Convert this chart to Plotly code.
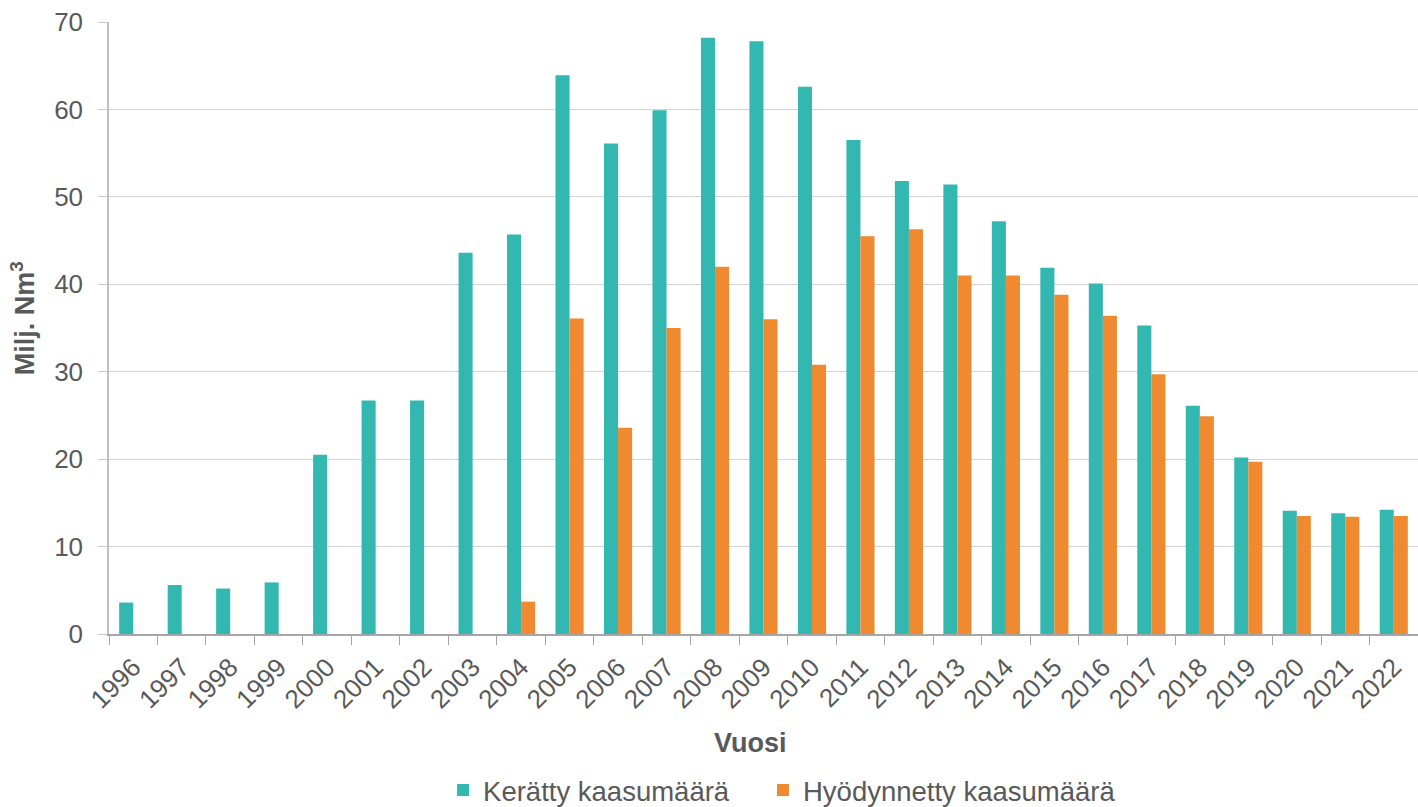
import plotly.graph_objects as go

# Vuosittain kerätty ja hyödynnetty kaatopaikkakaasu (milj. Nm3)
vuodet = [str(v) for v in range(1996, 2023)]
keratty = [3.6, 5.6, 5.2, 5.9, 20.5, 26.7, 26.7, 43.6, 45.7, 63.9,
           56.1, 59.9, 68.2, 67.8, 62.6, 56.5, 51.8, 51.4, 47.2, 41.9,
           40.1, 35.3, 26.1, 20.2, 14.1, 13.8, 14.2]
hyodynnetty = [0, 0, 0, 0, 0, 0, 0, 0, 3.7, 36.1,
               23.6, 35.0, 42.0, 36.0, 30.8, 45.5, 46.3, 41.0, 41.0, 38.8,
               36.4, 29.7, 24.9, 19.7, 13.5, 13.4, 13.5]

y_ticks = [0, 10, 20, 30, 40, 50, 60, 70]

TEAL = "#32B8B0"
ORANGE = "#EF8A31"
TEXT = "#595959"
FONT = "Liberation Sans, Arial, sans-serif"

fig = go.Figure()
fig.add_trace(go.Bar(x=vuodet, y=keratty, name="Kerätty kaasumäärä",
                     legend="legend",
                     marker=dict(color=TEAL, line=dict(width=0))))
fig.add_trace(go.Bar(x=vuodet, y=hyodynnetty, name="Hyödynnetty kaasumäärä",
                     legend="legend2",
                     marker=dict(color=ORANGE, line=dict(width=0))))

# Kumpikin selite omana laatikkonaan kuvan alareunassa
legend_common = dict(orientation="h", xanchor="left", yref="container",
                     y=17 / 807, yanchor="middle", itemwidth=30,
                     font=dict(size=27.5, color=TEXT, family=FONT),
                     bgcolor="rgba(0,0,0,0)")

fig.update_layout(
    width=1418, height=807,
    margin=dict(l=109, r=0, t=22, b=173),
    paper_bgcolor="white", plot_bgcolor="white",
    barmode="group", bargap=0.42, bargroupgap=0,
    font=dict(family=FONT, color=TEXT),
    showlegend=True,
    legend=dict(legend_common, x=0.2552),
    legend2=dict(legend_common, x=0.4996),
    xaxis=dict(type="category", tickangle=-45, tickson="boundaries",
               ticks="outside", ticklen=9, tickcolor="#A6A6A6",
               showline=True, linecolor="#A6A6A6", linewidth=1.5,
               tickfont=dict(size=26, color=TEXT, family=FONT),
               ticklabelstandoff=6, showgrid=False, automargin=False),
    yaxis=dict(range=[0, 70], tickvals=y_ticks, ticks="outside", ticklen=9,
               tickcolor="#C8C8C8", showline=True, linecolor="#BFBFBF",
               linewidth=1.5, gridcolor="#D4D4D4", gridwidth=1,
               tickfont=dict(size=26, color=TEXT, family=FONT),
               ticklabelstandoff=10, zeroline=False, automargin=False),
    annotations=[
        dict(text="<b>Vuosi</b>", x=0.490, y=0, xref="paper", yref="paper",
             xanchor="center", yanchor="middle", yshift=-108.5,
             showarrow=False, font=dict(size=27, color=TEXT, family=FONT)),
        dict(text="<b>Milj. Nm<sup>3</sup></b>", x=0, xref="paper",
             xshift=-86, y=0.516, yref="paper", xanchor="center",
             yanchor="middle", textangle=-90, showarrow=False,
             font=dict(size=27, color=TEXT, family=FONT)),
    ],
)

fig.write_html("out.html")
